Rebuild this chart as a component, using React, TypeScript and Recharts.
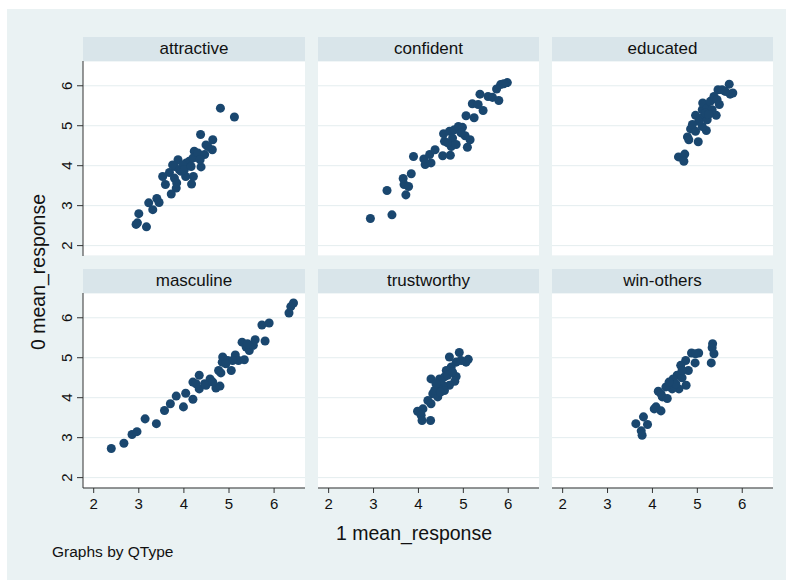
import React from 'react';
import { ScatterChart, Scatter, XAxis, YAxis, CartesianGrid } from 'recharts';

// facet order and labels
const panelTitles = ['attractive', 'confident', 'educated', 'masculine', 'trustworthy', 'win-others'];
const axisTicks = [2, 3, 4, 5, 6];

// values: x = 1 mean_response, y = 0 mean_response
const attractiveX = [4.81, 5.12, 4.37, 4.64, 4.63, 4.49, 4.23, 4.27, 4.38, 4.21, 4.17, 4.04, 3.87, 3.79, 3.9, 3.68, 3.53, 3.59, 3.83, 3.72, 3.4, 3.45, 3.22, 3.31, 3.0, 2.94, 2.97, 3.17, 4.05, 4.12, 3.98, 4.2, 4.31, 4.46, 4.36, 3.94, 4.01, 3.79, 3.84, 3.75, 4.53, 4.16];
const attractiveY = [5.44, 5.22, 4.78, 4.65, 4.4, 4.52, 4.36, 4.23, 3.97, 3.73, 3.54, 3.73, 4.15, 3.98, 3.9, 3.83, 3.73, 3.53, 3.44, 3.29, 3.18, 3.08, 3.07, 2.9, 2.8, 2.53, 2.57, 2.47, 4.07, 4.11, 4.02, 4.19, 4.32, 4.28, 4.15, 3.86, 3.9, 3.69, 3.57, 4.02, 4.48, 3.98];

const confidentX = [2.93, 3.41, 3.3, 3.72, 3.68, 3.78, 3.66, 3.84, 3.89, 4.15, 4.28, 4.12, 4.25, 4.37, 4.54, 4.71, 4.73, 4.58, 4.56, 4.69, 4.8, 4.89, 4.98, 5.04, 5.15, 5.09, 4.76, 4.65, 4.84, 5.06, 5.24, 5.2, 5.33, 5.44, 5.37, 5.55, 5.65, 5.79, 5.74, 5.83, 5.98, 5.9, 4.95];
const confidentY = [2.68, 2.77, 3.38, 3.27, 3.53, 3.48, 3.68, 3.8, 4.23, 4.03, 4.07, 4.17, 4.28, 4.4, 4.25, 4.26, 4.48, 4.61, 4.8, 4.86, 4.9, 4.98, 4.96, 4.75, 4.65, 4.46, 4.69, 4.57, 4.53, 5.25, 5.2, 5.55, 5.53, 5.38, 5.79, 5.73, 5.71, 5.63, 5.92, 6.03, 6.08, 6.05, 4.82];

const educatedX = [4.58, 4.72, 4.7, 4.78, 4.81, 5.02, 4.85, 4.96, 5.2, 5.11, 4.96, 5.07, 5.22, 5.42, 5.11, 5.12, 5.22, 5.33, 5.29, 5.37, 5.44, 5.49, 5.46, 5.55, 5.71, 5.73, 5.79, 5.62, 5.18, 5.25, 5.03, 4.89];
const educatedY = [4.22, 4.29, 4.11, 4.72, 4.65, 4.6, 4.92, 4.86, 4.88, 4.98, 5.26, 5.19, 5.15, 5.26, 5.4, 5.57, 5.44, 5.4, 5.61, 5.73, 5.65, 5.53, 5.9, 5.9, 6.04, 5.79, 5.82, 5.86, 5.32, 5.28, 5.11, 5.03];

const masculineX = [2.39, 2.67, 2.85, 2.96, 3.14, 3.39, 3.57, 3.7, 3.83, 3.99, 4.04, 4.2, 4.2, 4.34, 4.34, 4.46, 4.58, 4.71, 4.8, 4.82, 4.77, 4.86, 4.85, 5.05, 4.97, 5.14, 5.21, 5.34, 5.29, 5.38, 5.45, 5.54, 5.58, 5.8, 5.73, 5.89, 6.33, 6.37, 6.43, 4.49, 4.27, 4.64, 5.08, 4.93, 5.41];
const masculineY = [2.73, 2.86, 3.08, 3.15, 3.47, 3.35, 3.68, 3.85, 4.04, 3.77, 4.11, 3.96, 4.39, 4.56, 4.22, 4.35, 4.47, 4.24, 4.29, 4.62, 4.68, 5.02, 4.89, 4.68, 4.93, 5.07, 4.93, 4.95, 5.39, 5.27, 5.18, 5.31, 5.45, 5.42, 5.82, 5.87, 6.12, 6.28, 6.37, 4.31, 4.35, 4.39, 4.93, 4.85, 5.35];

const trustworthyX = [4.91, 4.69, 5.11, 5.06, 4.84, 4.73, 4.62, 4.84, 4.81, 4.28, 4.47, 4.58, 4.69, 4.54, 4.43, 4.58, 4.43, 4.32, 4.21, 4.28, 4.1, 3.98, 4.06, 4.08, 4.27, 4.5, 4.65, 4.76, 4.36, 4.49, 4.39, 4.95];
const trustworthyY = [5.13, 5.02, 4.96, 4.89, 4.89, 4.77, 4.68, 4.53, 4.41, 4.47, 4.47, 4.52, 4.31, 4.31, 4.27, 4.18, 4.02, 4.1, 3.93, 3.85, 3.72, 3.66, 3.56, 3.43, 3.43, 4.43, 4.56, 4.64, 4.18, 4.14, 4.35, 4.93];

const winOthersX = [5.34, 5.33, 5.37, 5.31, 5.03, 4.87, 4.95, 4.74, 4.63, 4.8, 4.55, 4.66, 4.46, 4.75, 4.59, 4.44, 4.3, 4.13, 4.22, 4.33, 4.08, 4.19, 4.04, 3.8, 3.63, 3.89, 3.75, 3.77, 4.52, 4.37, 4.66, 4.96, 4.19];
const winOthersY = [5.35, 5.25, 5.1, 4.87, 5.12, 5.12, 4.87, 4.93, 4.81, 4.68, 4.56, 4.5, 4.47, 4.31, 4.22, 4.22, 4.27, 4.16, 4.02, 3.98, 3.77, 3.67, 3.72, 3.52, 3.35, 3.33, 3.17, 3.06, 4.35, 4.39, 4.68, 5.1, 4.1];

const seriesX = [attractiveX, confidentX, educatedX, masculineX, trustworthyX, winOthersX];
const seriesY = [attractiveY, confidentY, educatedY, masculineY, trustworthyY, winOthersY];

const FONT = '"Liberation Sans", Arial, Helvetica, sans-serif';
const BG = '#eaf2f3';
const STRIP = '#d9e5ea';
const NAVY = '#1a476f';

const colLeft = [83, 318, 552];
const colWidth = [222, 221, 221];
const rowTop = [61, 293];
const plotH = 195;
const stripH = 24;

const YTick = (props: any) => {
  const { x, y, payload } = props;
  return (
    <text x={x} y={y} transform={`rotate(-90 ${x} ${y})`} textAnchor="middle"
      fontSize={15} fill="#111" fontFamily={FONT}>
      {payload.value}
    </text>
  );
};

function Panel({ idx }: { idx: number }) {
  const col = idx % 3;
  const row = Math.floor(idx / 3);
  const showY = col === 0;
  const showX = row === 1;
  const yw = showY ? 30 : 0;
  const xh = showX ? 30 : 0;
  const data = seriesX[idx].map((x, i) => ({ x, y: seriesY[idx][i] }));
  const w = colWidth[col];

  return (
    <>
      <div style={{
        position: 'absolute', left: colLeft[col], top: rowTop[row] - stripH, width: w, height: stripH,
        background: STRIP, textAlign: 'center', lineHeight: `${stripH}px`, fontSize: 17, color: '#111',
      }}>
        {panelTitles[idx]}
      </div>
      <div style={{ position: 'absolute', left: colLeft[col] - yw, top: rowTop[row] }}>
        <ScatterChart width={w + yw} height={plotH + xh} margin={{ top: 0, right: 0, bottom: 0, left: 0 }}>
          <CartesianGrid vertical={false} stroke="#e4edef" fill="#ffffff" />
          <XAxis type="number" dataKey="x" domain={[1.763, 6.685]} ticks={axisTicks} hide={!showX}
            height={30} tickSize={5} tickMargin={5} stroke="#333"
            tick={{ fill: '#111', fontSize: 15, fontFamily: FONT }} allowDataOverflow />
          <YAxis type="number" dataKey="y" domain={[1.74, 6.62]} ticks={axisTicks} hide={!showY}
            width={30} tickSize={6} tickMargin={5} stroke="#333" tick={<YTick />} allowDataOverflow />
          <Scatter data={data} fill={NAVY} isAnimationActive={false} />
        </ScatterChart>
      </div>
    </>
  );
}

export default function App() {
  return (
    <div style={{ position: 'absolute', left: 0, top: 0, width: 786, height: 580, background: '#fff', fontFamily: FONT, overflow: 'hidden' }}>
      <div style={{ position: 'absolute', left: 7, top: 9, width: 779, height: 571, background: BG }} />
      <svg width={786} height={580} style={{ position: 'absolute', left: 0, top: 0 }}>
        <text x={45} y={272} transform="rotate(-90 45 272)" textAnchor="middle" fontSize={19.5} fill="#111" fontFamily={FONT}>
          0 mean_response
        </text>
        <text x={414} y={540} textAnchor="middle" fontSize={19.5} fill="#111" fontFamily={FONT}>
          1 mean_response
        </text>
        <text x={52} y={557} fontSize={15.5} fill="#111" fontFamily={FONT}>
          Graphs by QType
        </text>
      </svg>
      {panelTitles.map((t, i) => <Panel key={t} idx={i} />)}
    </div>
  );
}
